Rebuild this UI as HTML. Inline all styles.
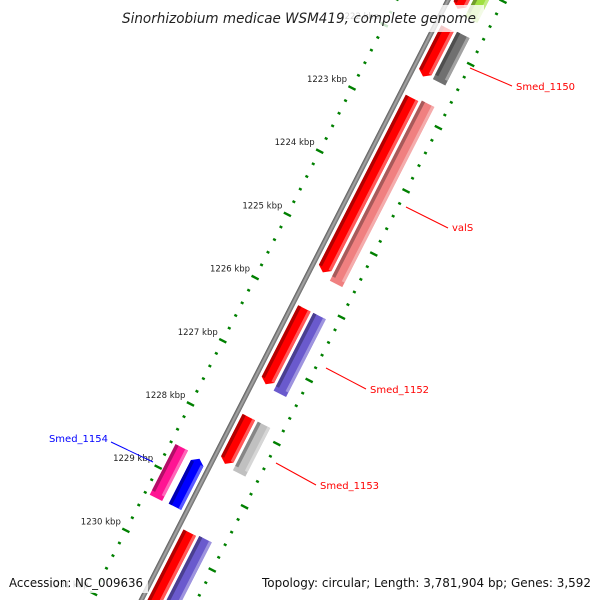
<!DOCTYPE html>
<html><head><meta charset="utf-8">
<style>
html,body{margin:0;padding:0;background:#fff;width:600px;height:600px;overflow:hidden;}
svg{display:block;font-family:"DejaVu Sans","Liberation Sans",sans-serif;}
</style></head>
<body>
<svg id="map" width="600" height="600" viewBox="0 0 600 600" xmlns="http://www.w3.org/2000/svg">
<defs>
  <linearGradient id="gBack" x1="0" y1="0" x2="0" y2="1">
    <stop offset="0" stop-color="#555"/><stop offset="0.5" stop-color="#aaa"/><stop offset="1" stop-color="#666"/>
  </linearGradient>
</defs>
<g id="local" transform="matrix(-0.455,0.89,0.89,0.455,352,88)"></g>
<g id="overlay"></g>
<g id="texts">
  <rect x="112" y="5" width="372" height="27" fill="#fff" fill-opacity="0.8"/>
  <text x="122" y="23" textLength="354" lengthAdjust="spacingAndGlyphs" font-size="14" font-style="italic" fill="#222">Sinorhizobium medicae WSM419, complete genome</text>
  <rect x="5" y="571" width="143" height="22" fill="#fff" fill-opacity="0.8"/>
  <text x="9" y="587" textLength="134" lengthAdjust="spacingAndGlyphs" font-size="12.5" fill="#111">Accession: NC_009636</text>
  <rect x="258" y="571" width="337" height="22" fill="#fff" fill-opacity="0.8"/>
  <text x="262" y="587" textLength="329" lengthAdjust="spacingAndGlyphs" font-size="12.5" fill="#111">Topology: circular; Length: 3,781,904 bp; Genes: 3,592</text>
</g>
</svg>
<script>
// ---- data ----
const tickKbp = [1221,1222,1223,1224,1225,1226,1227,1228,1229,1230,1231,1232];
const featNames = ["Smed_top","Smed_top2","Smed_1150a","Smed_1150","valS_a","valS","Smed_1152a","Smed_1152","Smed_1153a","Smed_1153","Smed_1154a","Smed_1154","next_a","next_b"];
const featStart = [1220.5,1220.5,1221.64,1221.62,1222.74,1222.71,1226.07,1226.07,1227.79,1227.79,1228.60,1228.63,1229.62,1229.60];
const featEnd   = [1221.33,1221.38,1222.40,1222.37,1225.50,1225.56,1227.27,1227.30,1228.53,1228.56,1229.40,1229.39,1233,1233];
const featLane  = [1,2,1,2,1,2,1,2,1,2,-2,-1,1,2];
const featColor = ["#ff0000","#a0e040","#ff0000","#707070","#ff0000","#f08080","#ff0000","#6a5acd","#ff0000","#c0c0c0","#ff1493","#0000ff","#ff0000","#6a5acd"];
const featArrow = [1,0,1,0,1,0,1,0,1,0,0,-1,0,0];

// ---- geometry ----
const PX_PER_KBP = 71, ORIGIN_KBP = 1223;
function u(k){ return (k-ORIGIN_KBP)*PX_PER_KBP; }
const lanes = {"-2":[5,19],"-1":[26,40],"1":[51,65],"2":[68,82]};
const NS="http://www.w3.org/2000/svg";
const L=document.getElementById('local');
function mk(tag,attrs,parent){const e=document.createElementNS(NS,tag);for(const k in attrs)e.setAttribute(k,attrs[k]);(parent||L).appendChild(e);return e;}
function shade(hex,f){const n=parseInt(hex.slice(1),16);let r=n>>16,g=(n>>8)&255,b=n&255;
  const m=c=>Math.max(0,Math.min(255,Math.round(f<0?c*(1+f):c+(255-c)*f)));return `rgb(${m(r)},${m(g)},${m(b)})`;}

// backbone
const bb=mk('rect',{x:u(1219),y:43,width:u(1234)-u(1219),height:5,fill:'url(#gBack)'});



// rulers (radial ticks)
[[0,0],[95,-4]].forEach(([v,off],ri)=>{
  for(let k=1219;k<=1234.01;k+=0.2){
    const kk=Math.round(k*10)/10;
    const major=Math.abs(kk-Math.round(kk))<0.01;
    const r=mk('rect',{x:u(kk)+off-1.2,y:v-(major?4:1.5),width:2.4,height:major?8:3,fill:'#008000'});
    
    
  }
});

// features
featNames.forEach((nm,i)=>{
  const [v0,v1]=lanes[featLane[i]];
  const a=u(featStart[i]), b=u(featEnd[i]), c=featColor[i], h=v1-v0, tip=5;
  const g=mk('g',{});
  
  
  let pts;
  if(featArrow[i]===1) pts=`${a},${v0} ${b-tip},${v0} ${b},${v0+h/2} ${b-tip},${v1} ${a},${v1}`;
  else if(featArrow[i]===-1) pts=`${a+tip},${v0} ${b},${v0} ${b},${v1} ${a+tip},${v1} ${a},${v0+h/2}`;
  else pts=`${a},${v0} ${b},${v0} ${b},${v1} ${a},${v1}`;
  mk('polygon',{points:pts,fill:c},g);
  mk('rect',{x:a+(featArrow[i]===-1?tip:0),y:v0,width:Math.max(0,b-a-tip),height:h*0.25,fill:shade(c,-0.3)},g);
  mk('rect',{x:a+(featArrow[i]===-1?tip:0),y:v1-h*0.22,width:Math.max(0,b-a-tip),height:h*0.22,fill:shade(c,0.35)},g);
});

// ---- overlay (screen space) ----
const O=document.getElementById('overlay');
function pt(k,v){const uu=u(k);return [352-0.455*uu+0.89*v, 88+0.89*uu+0.455*v];}
tickKbp.forEach(k=>{
  const [x,y]=pt(k,0);
  const t=mk('text',{x:x-5,y:y-6,'text-anchor':'end','font-size':'8.5',fill:'#222'},O);
  t.textContent=k+' kbp';
  
  
});
const lblText=["Smed_1150","valS","Smed_1152","Smed_1153","Smed_1154"];
const lblColor=["#ff0000","#ff0000","#ff0000","#ff0000","#0000ff"];
const lblLine=[[470,68,512,86],[406,207,448,228],[326,368,366,389],[276,463,316,485],[111,442,153,462]];
const lblPos=[[516,90,'start'],[452,231,'start'],[370,393,'start'],[320,489,'start'],[108,442,'end']];
lblText.forEach((s,i)=>{
  const l=lblLine[i];
  const ln=mk('line',{x1:l[0],y1:l[1],x2:l[2],y2:l[3],stroke:lblColor[i],'stroke-width':1},O);
  
  
  const t=mk('text',{x:lblPos[i][0],y:lblPos[i][1],'text-anchor':lblPos[i][2],'font-size':'10',fill:lblColor[i]},O);
  t.textContent=s;
  
  
});
</script>
</body></html>
